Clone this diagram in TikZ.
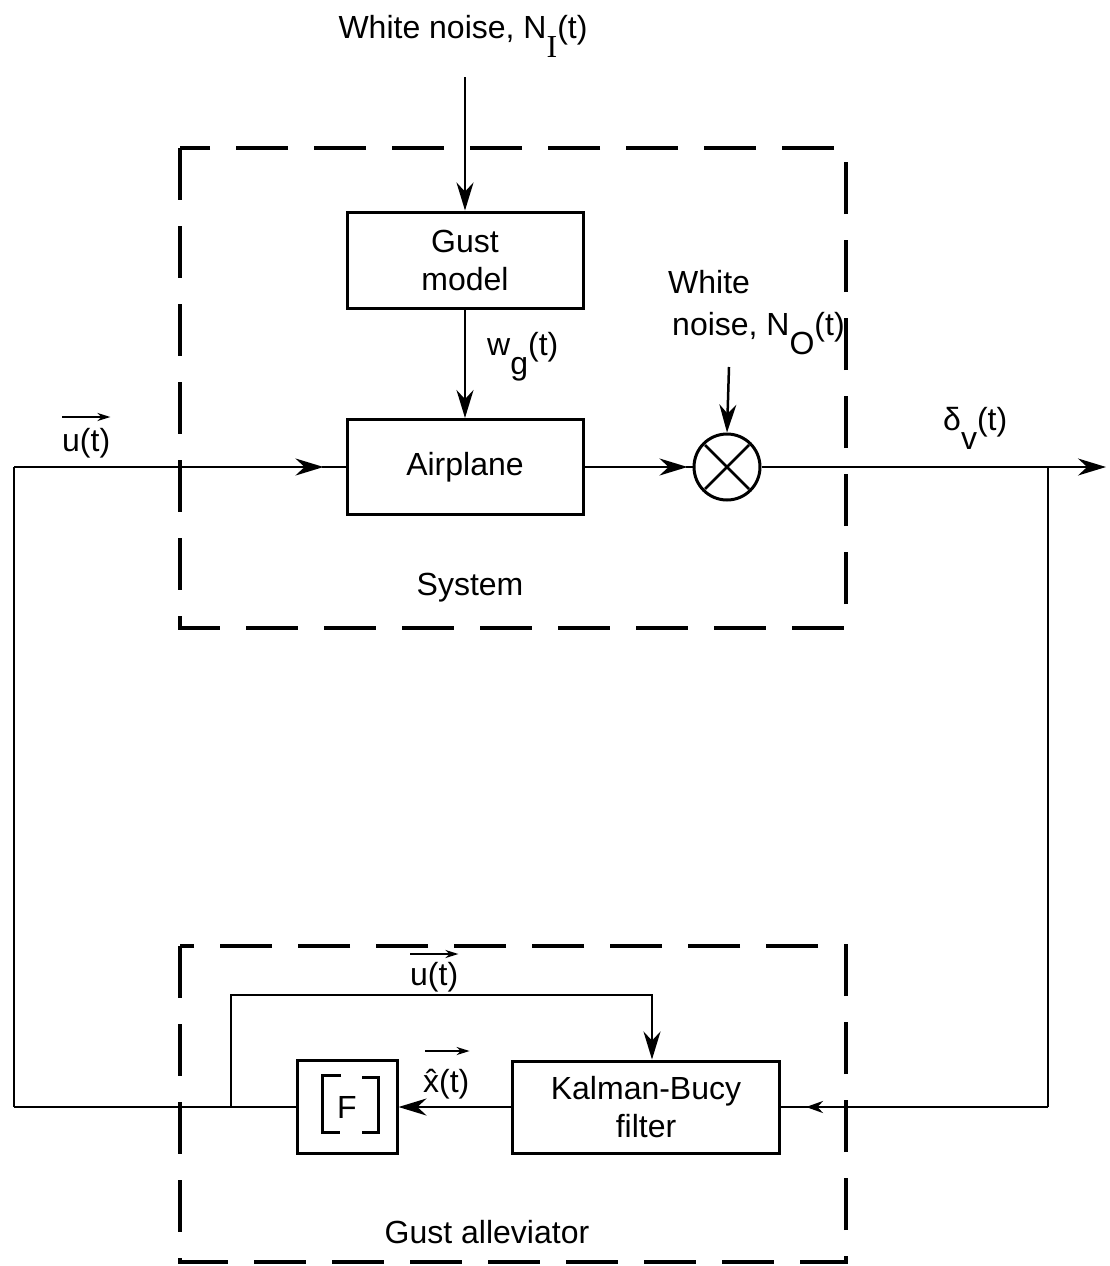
\documentclass[tikz,border=0pt]{standalone}
\usepackage{fontspec}
\setmainfont{Liberation Sans}
\newfontfamily\serifI{Liberation Serif}
\usetikzlibrary{arrows.meta,calc}
\newcommand{\lowsub}[1]{\raisebox{-0.62em}{#1}}
\begin{document}
\begin{tikzpicture}[x=1pt,y=-1pt,
  every node/.style={font=\fontsize{32}{38}\selectfont, inner sep=0pt},
  blk/.style={draw, line width=3pt, align=center},
  ln/.style={line width=2.5pt},
  arr/.style={ln, -{Stealth[length=28pt,width=17pt]}},
  sarr/.style={ln, -{Stealth[length=17pt,width=12pt]}},
  dsh/.style={line width=3.5pt, dash pattern=on 52pt off 26pt},
  vecar/.style={line width=2.2pt, -{Stealth[length=13pt,width=8pt]}}
]
\useasboundingbox (0,0) rectangle (1109,1266);

% dashed enclosures
\draw[dsh] (180,148) rectangle (846,628);
\draw[dsh] (180,946) rectangle (846,1262);

% blocks
\node[blk, minimum width=236pt, minimum height=96pt] (gust) at (465,260) {Gust\\model};
\node[blk, minimum width=236pt, minimum height=95pt] (air) at (465,467) {Airplane};
\node[draw, circle, line width=3pt, minimum size=66pt] (mult) at (727,467) {};
\node[blk, minimum width=267pt, minimum height=92pt] (kal) at (646,1107) {Kalman-Bucy\\filter};
\node[blk, minimum width=100pt, minimum height=93pt] (F) at (347,1107) {F};

% multiplier cross
\draw[ln] ($(mult.center)+(-22,-22)$) -- ($(mult.center)+(22,22)$)
          ($(mult.center)+(22,-22)$) -- ($(mult.center)+(-22,22)$);

% matrix brackets in F
\draw[line width=3pt] ($(F.center)+(-6,-32)$) -- ($(F.center)+(-25,-32)$) -- ($(F.center)+(-25,25)$) -- ($(F.center)+(-7,25)$);
\draw[line width=3pt] ($(F.center)+(15,-30)$) -- ($(F.center)+(31,-30)$) -- ($(F.center)+(31,25)$) -- ($(F.center)+(15,25)$);

% free coordinates
\coordinate (nI) at (465,77);
\coordinate (nO) at (729,367);
\coordinate (out) at (1106,467);
\coordinate (br) at (1048,467);
\coordinate (brd) at (1048,1107);
\coordinate (lt) at (14,467);
\coordinate (lb) at (14,1107);
\coordinate (fb) at (231,1107);
\coordinate (fbt) at (231,995);
\coordinate (kt) at (652,995);

% connectors
\draw[arr] (nI) -- (gust.north);
\draw[arr] (gust.south) -- (air.north);
\draw[arr] (nO) -- (mult.north);
\draw[ln] (lb) -- (lt);
\draw[arr] (lt) -- ($(air.west)+(-22,0)$);
\draw[ln] ($(air.west)+(-24,0)$) -- (air.west);
\draw[arr] (air.east) -- ($(mult.west)+(-5,0)$);
\draw[ln] ($(mult.west)+(-7,0)$) -- (mult.west);
\draw[line width=2pt, -{Stealth[length=28pt,width=17pt]}] (mult.east) -- (out);
\draw[ln] (br) -- (brd);
\draw[sarr] (brd) -- ($(kal.east)+(25,0)$);
\draw[ln] ($(kal.east)+(27,0)$) -- (kal.east);
\draw[arr] (kal.west) -- (F.east);
\draw[ln] (F.west) -- (lb);
\draw[arr] (fb) -- (fbt) -- (kt) -- (kt |- kal.north);

% labels
\node[anchor=base] (tNI) at (463,38) {White noise, N\lowsub{\serifI I}(t)};
\node[anchor=base west] (tW) at (668,293) {White};
\node[anchor=base west] (tNO) at (672,335) {noise, N\lowsub{O}(t)};
\node[anchor=base west] (tdv) at (943,430) {δ\lowsub{v}(t)};
\node[anchor=base west] (twg) at (487,355) {w\lowsub{g}(t)};
\node[anchor=base west] (u1) at (62,451) {u(t)};
\node[anchor=base west] (u2) at (410,985) {u(t)};
\node[anchor=base west] (xh) at (423,1092) {x̂(t)};
\node[anchor=base] (sys) at (470,595) {System};
\node[anchor=base] (ga) at (487,1243) {Gust alleviator};

% vector arrows over labels
\draw[vecar] ([yshift=34pt]u1.base west) -- ([yshift=34pt]u1.base east);
\draw[vecar] ([yshift=31pt]u2.base west) -- ([yshift=31pt]u2.base east);
\draw[vecar] ([xshift=2pt,yshift=41pt]xh.base west) -- ([yshift=41pt]xh.base east);
\end{tikzpicture}
\end{document}
